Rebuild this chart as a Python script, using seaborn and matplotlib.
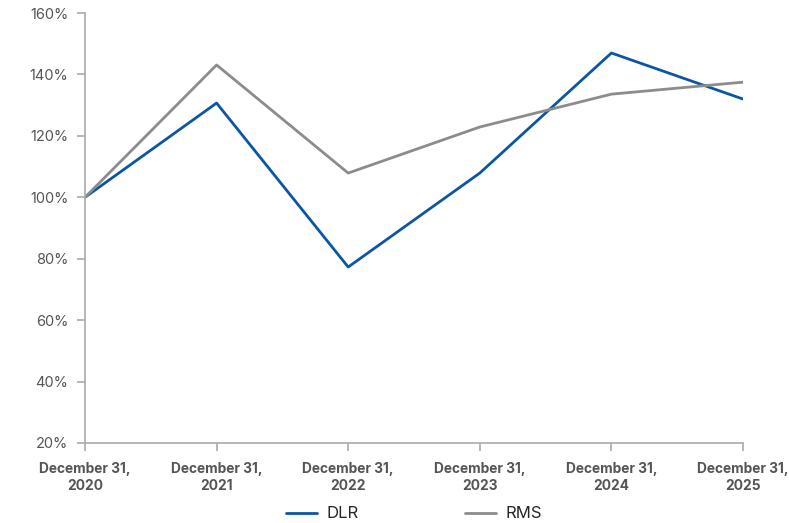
import matplotlib
matplotlib.use("Agg")
import matplotlib.pyplot as plt
import seaborn as sns
import pandas as pd

categories = ["December 31,\n2020", "December 31,\n2021", "December 31,\n2022",
              "December 31,\n2023", "December 31,\n2024", "December 31,\n2025"]
dlr = [100.0, 130.7, 77.3, 107.9, 147.0, 132.0]
rms = [100.0, 143.1, 107.9, 122.9, 133.6, 137.5]
yticks = [20, 40, 60, 80, 100, 120, 140, 160]

sns.set_theme(style="white")
plt.rcParams["font.family"] = ["Inter", "DejaVu Sans"]

df = pd.DataFrame({
    "x": list(range(len(categories))) * 2,
    "value": dlr + rms,
    "series": ["DLR"] * len(dlr) + ["RMS"] * len(rms),
})

fig = plt.figure(figsize=(7.89, 5.23), dpi=100)
ax = fig.add_axes([0.1077, 0.153, 0.834, 0.822])
sns.lineplot(data=df, x="x", y="value", hue="series",
             palette={"DLR": "#0B56A4", "RMS": "#8C8C8C"}, linewidth=2, ax=ax, legend=True)

ax.set_xlim(0, len(categories) - 1)
ax.set_ylim(20, 160)
ax.set_yticks(yticks)
ax.set_yticklabels([f"{v}%" for v in yticks])
ax.set_xticks(range(len(categories)))
ax.set_xticklabels(categories, fontweight="bold", color="#555555", fontsize=9.9)
ax.set_xlabel("")
ax.set_ylabel("")
for lab in ax.get_yticklabels():
    lab.set_color("#555555")
    lab.set_fontsize(10.5)
for s in ["top", "right"]:
    ax.spines[s].set_visible(False)
for s in ["left", "bottom"]:
    ax.spines[s].set_color("#AAAAAA")
    ax.spines[s].set_linewidth(1.2)
ax.tick_params(axis="both", which="both", length=6, color="#AAAAAA", width=1.2,
               left=True, bottom=True)
ax.tick_params(axis="y", pad=6)
ax.tick_params(axis="x", pad=8)

handles, labels = ax.get_legend_handles_labels()
ax.legend(handles, labels, loc="center", bbox_to_anchor=(0.5, -0.165), ncol=2,
          frameon=False, fontsize=12, handlelength=1.85, handletextpad=0.55,
          columnspacing=6.4, borderpad=0.2)

fig.savefig("out.png", dpi=100)
